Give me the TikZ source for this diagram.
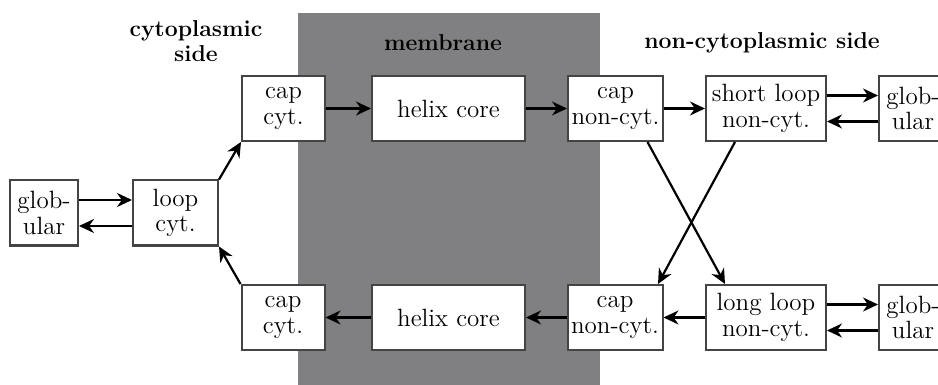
\documentclass[tikz,border=0pt]{standalone}
\usetikzlibrary{arrows.meta,positioning}
\definecolor{bandgray}{RGB}{128,128,130}
\definecolor{boxline}{RGB}{68,68,68}

\begin{document}
\begin{tikzpicture}[
  x=0.5pt, y=-0.5pt,
  every node/.style={font=\fontsize{12.5}{12.8}\selectfont},
  box/.style={
    draw=boxline,
    line width=1pt,
    fill=white,
    align=center,
    inner sep=1pt,
    minimum height=32.5pt
  },
  arrow/.style={
    -{Stealth[length=7.5pt,width=7pt]},
    line width=1.1pt
  },
  sideTitle/.style={font=\fontsize{11.5}{12.5}\selectfont\bfseries, align=center}
]
\useasboundingbox (0,0) rectangle (938,385);

% ------------------------------------------------
% membrane band
% ------------------------------------------------
\fill[bandgray] (298,13) rectangle (600,385);

\node[sideTitle] (cytTitle) at (196,41) {cytoplasmic\\side};
\node[sideTitle] (memTitle) at (443,43) {membrane};
\node[sideTitle] (noncytTitle) at (762,43) {non-cytoplasmic side};

% ------------------------------------------------
% boxes
% ------------------------------------------------
\node[box, minimum width=34pt] (globL) at (44,213) {glob-\\ular};
\node[box, minimum width=42.5pt] (loopC) at (175.5,213) {loop\\cyt.};

\node[box, minimum width=41.5pt] (capT) at (283.5,108.5) {cap\\cyt.};
\node[box, minimum width=41.5pt] (capB) at (283,317.5) {cap\\cyt.};

\node[box, minimum width=76.5pt] (helixT) at (448.5,108.5) {helix core};
\node[box, minimum width=76.5pt] (helixB) at (448.5,317.5) {helix core};

\node[box, minimum width=47.5pt] (capNT) at (615.5,108.5) {cap\\non-cyt.};
\node[box, minimum width=47.5pt] (capNB) at (615,317.5) {cap\\non-cyt.};

\node[box, minimum width=60pt] (shortL) at (766,108.5) {short loop\\non-cyt.};
\node[box, minimum width=60pt] (longL) at (766,317.5) {long loop\\non-cyt.};

\node[box, minimum width=34pt] (globRT) at (913,108.5) {glob-\\ular};
\node[box, minimum width=34pt] (globRB) at (913,317.5) {glob-\\ular};

% ------------------------------------------------
% arrows
% ------------------------------------------------

% cytoplasmic side
\draw[arrow] ([yshift=6.5pt]globL.east) -- ([yshift=6.5pt]loopC.west);
\draw[arrow] ([yshift=-6.5pt]loopC.west) -- ([yshift=-6.5pt]globL.east);
\draw[arrow] (loopC.north east) -- (capT.south west);
\draw[arrow] (capB.north west) -- (loopC.south east);

% through the membrane
\draw[arrow] (capT.east) -- (helixT.west);
\draw[arrow] (helixT.east) -- (capNT.west);
\draw[arrow] (capNB.west) -- (helixB.east);
\draw[arrow] (helixB.west) -- (capB.east);

% non-cytoplasmic side
\draw[arrow] (capNT.east) -- (shortL.west);
\draw[arrow] (longL.west) -- (capNB.east);
\draw[arrow] ([yshift=6.5pt]shortL.east) -- ([yshift=6.5pt]globRT.west);
\draw[arrow] ([yshift=-6.5pt]globRT.west) -- ([yshift=-6.5pt]shortL.east);
\draw[arrow] ([yshift=6.5pt]longL.east) -- ([yshift=6.5pt]globRB.west);
\draw[arrow] ([yshift=-6.5pt]globRB.west) -- ([yshift=-6.5pt]longL.east);

% crossing arrows
\draw[arrow] ([xshift=16pt]capNT.south) -- ([xshift=-20.5pt]longL.north);
\draw[arrow] ([xshift=-15.5pt]shortL.south) -- ([xshift=21.5pt]capNB.north);

\end{tikzpicture}
\end{document}
